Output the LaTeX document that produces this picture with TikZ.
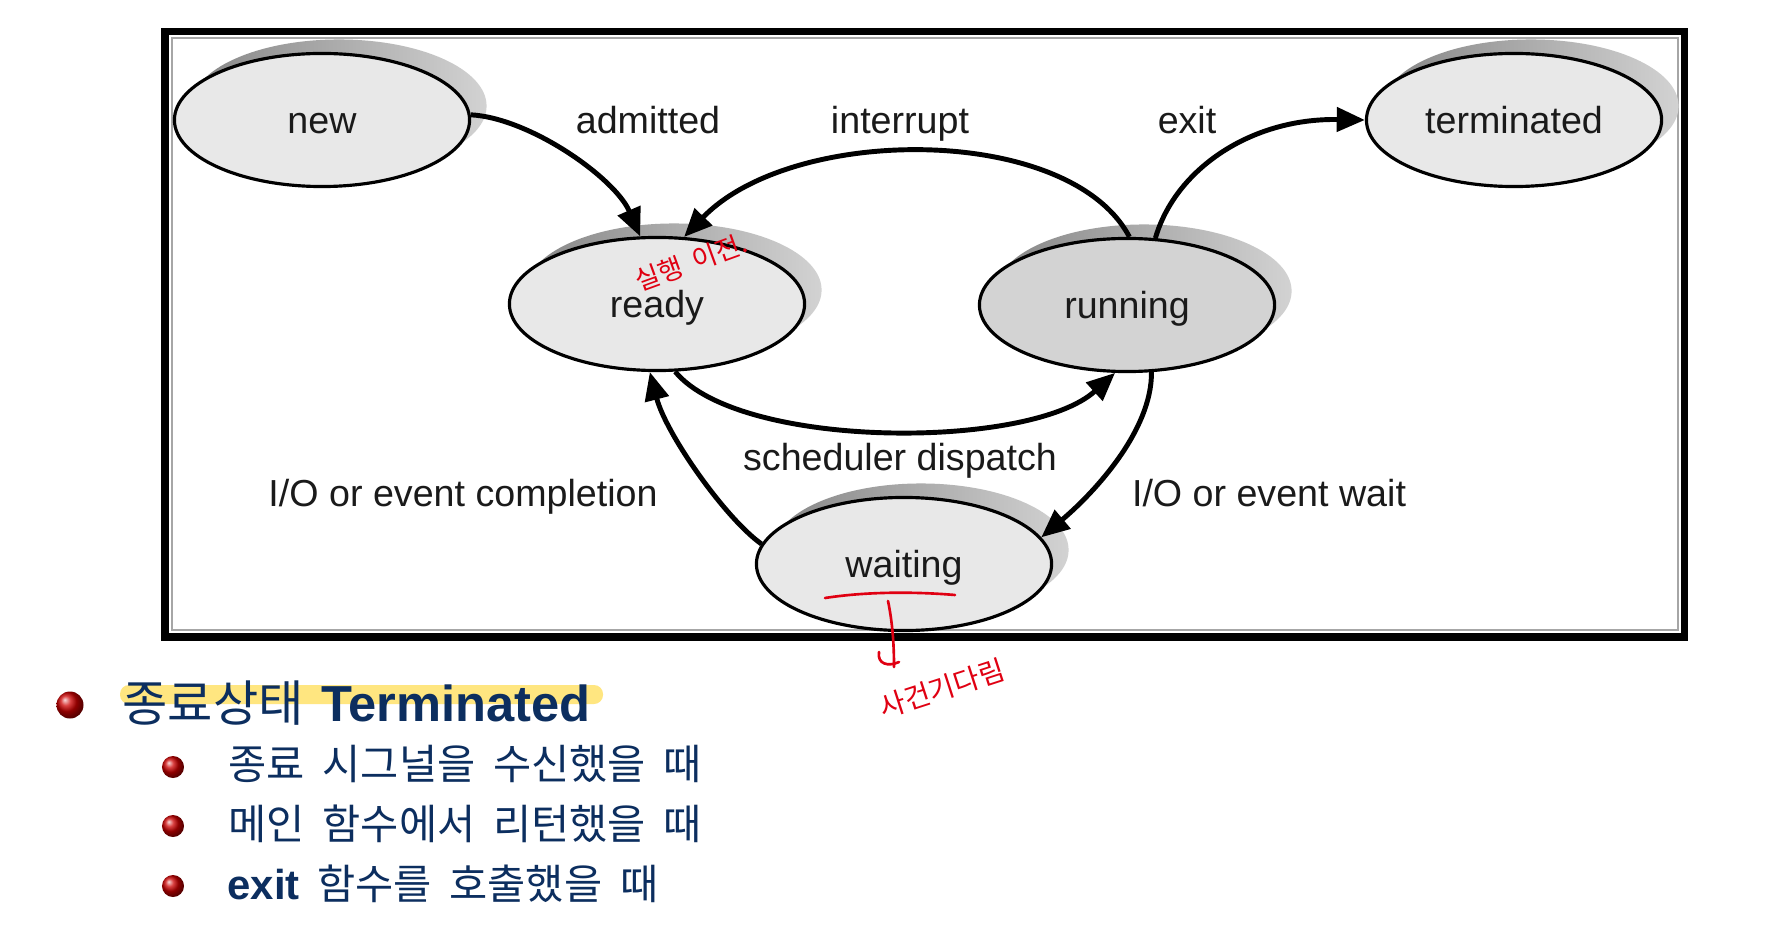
\documentclass[tikz,border=0pt]{standalone}
\usepackage{fontspec}
\setmainfont{Liberation Sans}
\newfontfamily\kr[WordSpace=1.9]{Noto Sans CJK KR}
\usetikzlibrary{shapes.geometric,arrows.meta}
\definecolor{statefill}{HTML}{E8E8E8}
\definecolor{runfill}{HTML}{D3D3D3}
\definecolor{inktext}{HTML}{1A1A1A}
\definecolor{navy}{HTML}{0C2E5F}
\definecolor{pen}{HTML}{E00012}
\definecolor{marker}{HTML}{FFE680}
\begin{document}
\begin{tikzpicture}[x=0.01cm, y=-0.01cm,
  state/.style={ellipse, draw=black, line width=0.9pt, fill=statefill,
    minimum width=2.95cm, minimum height=1.33cm, inner sep=0pt,
    text height=7.7pt, text depth=0pt,
    text=inktext, font=\fontsize{10.7}{12}\selectfont},
  lbl/.style={text=inktext, inner sep=0pt, text height=7.7pt, text depth=0pt,
    font=\fontsize{10.7}{12}\selectfont},
  conn/.style={line width=1.4pt, -{Triangle[length=8pt,width=6.8pt]}},
  shadowfill/.style={left color=gray!95, right color=gray!35, draw=none},
  pentext/.style={text=pen, inner sep=0pt, font=\kr\fontsize{8}{9}\selectfont},
  penline/.style={draw=pen, line width=0.75pt, line cap=round, line join=round},
  bullet/.style={circle, inner sep=0pt, ball color=red!80!black},
  rowtext/.style={anchor=base west, inner sep=0pt, text=navy},
]
\useasboundingbox (0,0) rectangle (1780,940);
\fill[white] (0,0) rectangle (1780,940);

% frame
\draw[line width=2pt] (165,31.5) rectangle (1684,637);
\draw[line width=0.6pt, draw=gray!70] (172,38) rectangle (1678,630);

% centres
\coordinate (cnew) at (322,120);
\coordinate (cready) at (657,304);
\coordinate (crun) at (1127,305);
\coordinate (cterm) at (1514,120);
\coordinate (cwait) at (904,564);

% shadows
\foreach \c in {cnew,cready,crun,cterm,cwait}
  \shade[shadowfill] ([shift={(17,-14)}]\c) ellipse [x radius=1.475cm, y radius=0.665cm];

% states
\node[state] (new) at (cnew) {new};
\node[state] (ready) at (cready) {ready};
\node[state, fill=runfill] (running) at (crun) {running};
\node[state] (terminated) at (cterm) {terminated};
\node[state] (waiting) at (cwait) {waiting};

% transitions
\draw[conn] (new.2) .. controls (530,118) and (615,178) .. (ready.104);
\draw[conn] (running.88) .. controls (1070,124) and (793,124) .. (ready.68);
\draw[conn] (ready.-75) .. controls (740,450) and (1030,450) .. (running.-100);
\draw[conn] (running.67) .. controls (1175,170) and (1250,118) .. (terminated.west);
\draw[conn] (running.-70) .. controls (1152,430) and (1095,492) .. (waiting.11);
\draw[conn] (waiting.172) .. controls (725,518) and (666,434) .. (ready.-96);

% labels
\node[lbl] (ladm) at (648,120) {admitted};
\node[lbl] (lint) at (900,120) {interrupt};
\node[lbl] (lexit) at (1187,120) {exit};
\node[lbl] (lsch) at (900,457) {scheduler dispatch};
\node[lbl] (lcomp) at (463,493) {I/O or event completion};
\node[lbl] (lwait) at (1269,493) {I/O or event wait};

% handwritten notes
\node[pentext, rotate=20, font=\kr\fontsize{7.6}{9}\selectfont] (note1) at (691,262) {실행 이전.};
\draw[penline] (825,598) .. controls (870,591) and (920,592) .. (955,595);
\draw[penline] (888,601) .. controls (893,625) and (894,648) .. (894,667);
\draw[penline] (879,652) .. controls (877,664) and (888,667) .. (899,662);
\node[pentext, rotate=18] (note2) at (942,688) {사건기다림};

% bullet list
\fill[marker, rounded corners=0.09cm] (120,685) rectangle (603,704);
\node[bullet, minimum size=0.27cm] (b0) at (70,705) {};
\node[bullet, minimum size=0.22cm] (b1) at (173,767) {};
\node[bullet, minimum size=0.22cm] (b2) at (173,826) {};
\node[bullet, minimum size=0.22cm] (b3) at (173,886) {};

\node[rowtext] (h0) at (122,721) {{\kr\fontsize{14}{16}\selectfont 종료상태}\hspace{5pt}{\fontsize{14.4}{16}\selectfont\bfseries Terminated}};
\node[rowtext, font=\kr\fontsize{11.8}{13}\selectfont] (r1) at (228,779) {종료 시그널을 수신했을 때};
\node[rowtext, font=\kr\fontsize{11.8}{13}\selectfont] (r2) at (228,839) {메인 함수에서 리턴했을 때};
\node[rowtext] (r3) at (227,899) {{\fontsize{11.9}{13}\selectfont\bfseries exit}{\kr\fontsize{11.8}{13}\selectfont{} 함수를 호출했을 때}};
\end{tikzpicture}
\end{document}
